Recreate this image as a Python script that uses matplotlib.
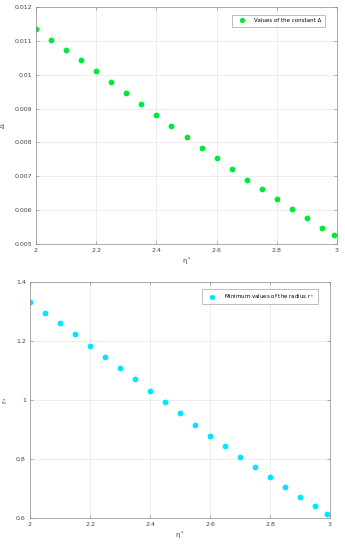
import numpy as np
import matplotlib.pyplot as plt

# Datos
eta = [2.0, 2.05, 2.1, 2.15, 2.2, 2.25, 2.3, 2.35, 2.4, 2.45, 2.5,
       2.55, 2.6, 2.65, 2.7, 2.75, 2.8, 2.85, 2.9, 2.95, 2.99]
delta = [0.01134, 0.01103, 0.01073, 0.01042, 0.01011, 0.00978, 0.00945,
         0.00914, 0.00880, 0.00849, 0.00817, 0.00784, 0.00753, 0.00722,
         0.00690, 0.00662, 0.00632, 0.00603, 0.00576, 0.00548, 0.00528]
r_min = [1.332, 1.296, 1.260, 1.224, 1.184, 1.147, 1.108, 1.070, 1.032,
         0.992, 0.955, 0.916, 0.879, 0.843, 0.808, 0.772, 0.738, 0.704,
         0.671, 0.640, 0.614]

delta_ticks = [0.005, 0.006, 0.007, 0.008, 0.009, 0.01, 0.011, 0.012]
delta_labels = ['0.005', '0.006', '0.007', '0.008', '0.009', '0.01', '0.011', '0.012']
r_ticks = [0.6, 0.8, 1.0, 1.2, 1.4]
r_labels = ['0.6', '0.8', '1', '1.2', '1.4']
x_ticks = [2, 2.2, 2.4, 2.6, 2.8, 3]
x_labels = ['2', '2.2', '2.4', '2.6', '2.8', '3']

plt.rcParams['font.family'] = ['DejaVu Sans']
fs = 4.5

fig = plt.figure(figsize=(3.45, 5.5), dpi=100)
ax1 = fig.add_axes([36 / 345, 1 - 244 / 550, 301 / 345, 237 / 550])
ax2 = fig.add_axes([30 / 345, 1 - 518 / 550, 300 / 345, 236 / 550])


def estilo(ax):
    ax.grid(True, color='#e6e6e6', linewidth=0.5)
    ax.set_axisbelow(True)
    for s in ax.spines.values():
        s.set_color('#8c8c8c')
        s.set_linewidth(0.5)
    ax.tick_params(direction='in', length=2, width=0.5, colors='#8c8c8c',
                   labelsize=fs, labelcolor='#444444', top=True, right=True, pad=3)


ax1.plot(eta, delta, 'o', color='#00e83a', markersize=4.2, markeredgewidth=0,
         label='Values of the constant Δ')
ax1.set_xlim(2, 3)
ax1.set_ylim(0.005, 0.012)
ax1.set_xticks(x_ticks, x_labels)
ax1.set_yticks(delta_ticks, delta_labels)
ax1.set_xlabel('η$^*$', fontsize=5, color='#444444', labelpad=2)
ax1.set_ylabel('Δ', fontsize=5, color='#444444', labelpad=6)
estilo(ax1)
leg = ax1.legend(loc='upper right', fontsize=4, frameon=True, fancybox=False,
                 borderpad=0.7, handletextpad=1.2, markerscale=0.9,
                 bbox_to_anchor=(0.97, 0.98))
leg.get_frame().set_edgecolor('#8c8c8c')
leg.get_frame().set_linewidth(0.5)

ax2.plot(eta, r_min, 'o', color='#00e6ff', markersize=4.2, markeredgewidth=0,
         label='Minimum values of the radius r$_*$')
ax2.set_xlim(2, 3)
ax2.set_ylim(0.6, 1.4)
ax2.set_xticks(x_ticks, x_labels)
ax2.set_yticks(r_ticks, r_labels)
ax2.set_xlabel('η$^*$', fontsize=5, color='#444444', labelpad=2)
ax2.set_ylabel('r$_*$', fontsize=5, color='#444444', labelpad=6)
estilo(ax2)
leg = ax2.legend(loc='upper right', fontsize=4, frameon=True, fancybox=False,
                 borderpad=0.7, handletextpad=1.2, markerscale=0.9,
                 bbox_to_anchor=(0.97, 0.98))
leg.get_frame().set_edgecolor('#8c8c8c')
leg.get_frame().set_linewidth(0.5)

fig.savefig('out.png', dpi=100)
